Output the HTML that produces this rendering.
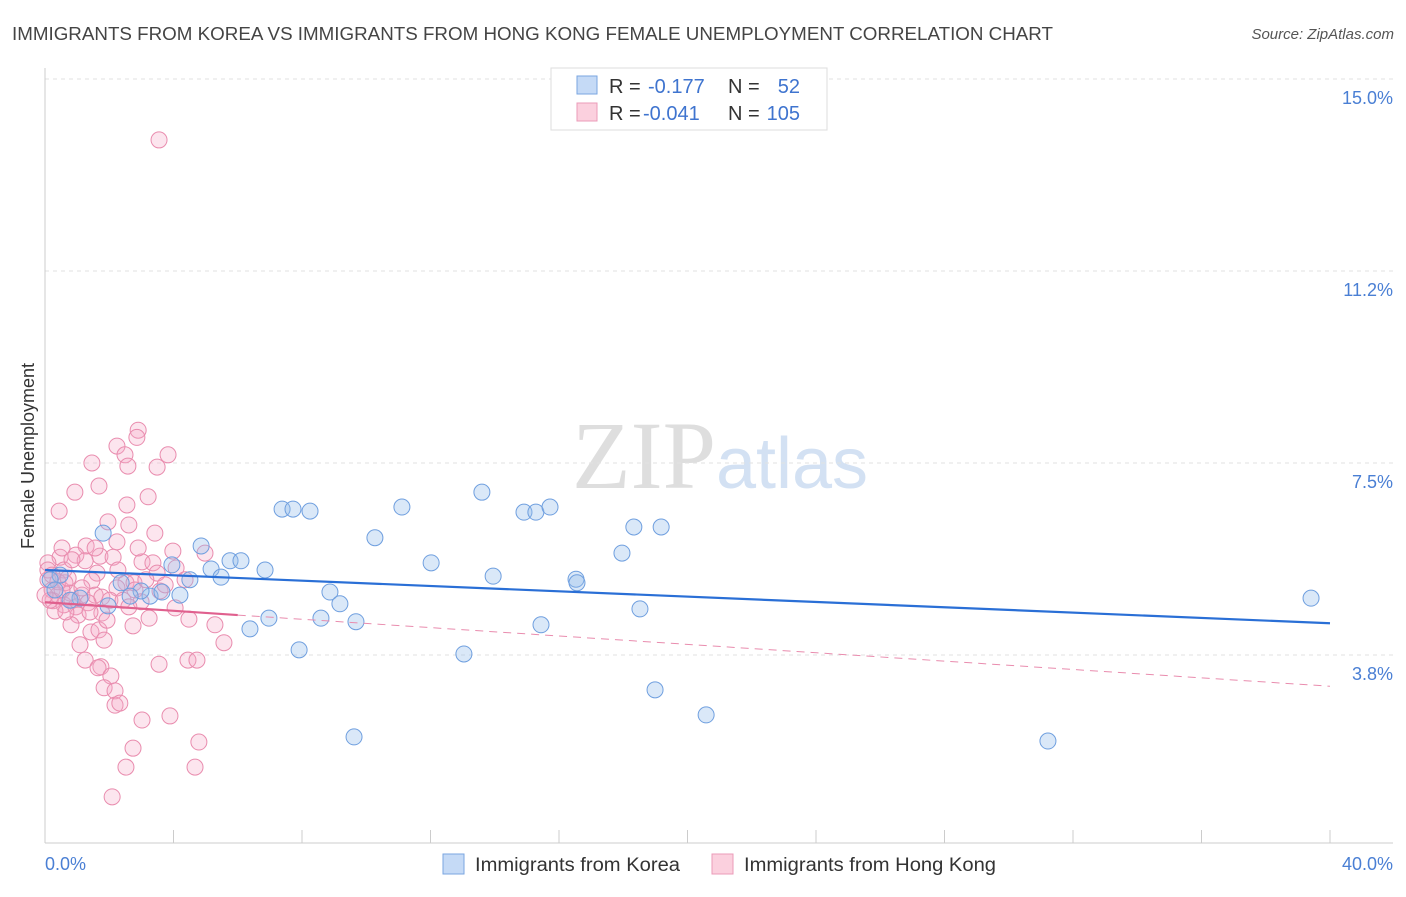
<!DOCTYPE html>
<html><head><meta charset="utf-8"><style>
body{margin:0;background:#fff;font-family:"Liberation Sans",sans-serif;}
</style></head><body>
<svg width="1406" height="892" xmlns="http://www.w3.org/2000/svg" font-family="Liberation Sans, sans-serif">
<text x="12" y="40" font-size="18" fill="#444" textLength="1041" lengthAdjust="spacingAndGlyphs">IMMIGRANTS FROM KOREA VS IMMIGRANTS FROM HONG KONG FEMALE UNEMPLOYMENT CORRELATION CHART</text>
<text x="1394" y="39" font-size="15" fill="#555" text-anchor="end" font-style="italic">Source: ZipAtlas.com</text>
<text x="720" y="488" font-size="96" text-anchor="middle" fill="#dedede" font-family="Liberation Serif, serif">ZIP<tspan fill="#d3e1f3" font-family="Liberation Sans, sans-serif" font-size="72">atlas</tspan></text>
<g id="grid"></g>
<g id="axes"></g>
<g id="marks"></g>
<text transform="translate(34,456) rotate(-90)" font-size="18" fill="#333" text-anchor="middle">Female Unemployment</text>
<text x="45" y="870" font-size="18" fill="#4a7fd4">0.0%</text>
<text x="1393" y="870" font-size="18" fill="#4a7fd4" text-anchor="end">40.0%</text>
<g>
<rect x="551" y="68" width="276" height="62" fill="#fff" stroke="#ddd"/>
<rect x="577" y="76" width="20" height="18" fill="#c5daf6" stroke="#7aa6e0"/>
<rect x="577" y="103" width="20" height="18" fill="#fbd0de" stroke="#eb9bb8"/>
<text x="609" y="93" font-size="20" fill="#333">R =</text>
<text x="648" y="93" font-size="20" fill="#3f74cf">-0.177</text>
<text x="728" y="93" font-size="20" fill="#333">N =</text>
<text x="800" y="93" font-size="20" fill="#3f74cf" text-anchor="end">52</text>
<text x="609" y="120" font-size="20" fill="#333">R =</text>
<text x="643" y="120" font-size="20" fill="#3f74cf">-0.041</text>
<text x="728" y="120" font-size="20" fill="#333">N =</text>
<text x="800" y="120" font-size="20" fill="#3f74cf" text-anchor="end">105</text>
</g>
<g>
<rect x="443" y="854" width="21" height="20" fill="#c5daf6" stroke="#7aa6e0"/>
<text x="475" y="871" font-size="19" fill="#333" textLength="205" lengthAdjust="spacingAndGlyphs">Immigrants from Korea</text>
<rect x="712" y="854" width="21" height="20" fill="#fbd0de" stroke="#eb9bb8"/>
<text x="744" y="871" font-size="19" fill="#333" textLength="252" lengthAdjust="spacingAndGlyphs">Immigrants from Hong Kong</text>
</g>
</svg>
<script>
const yTicks=[15.0,11.25,7.5,3.75];
const yTickLabels=["15.0%","11.2%","7.5%","3.8%"];
const xTicks=[0,4,8,12,16,20,24,28,32,36,40];
const koreaX=[1.81,4.86,5.76,6.10,5.17,5.48,6.85,4.51,3.95,3.27,3.64,4.20,2.99,2.65,2.37,1.96,0.47,0.16,0.31,7.38,7.72,8.25,10.27,11.11,13.60,14.91,15.28,15.72,18.33,19.18,17.96,12.02,13.95,16.53,16.56,8.87,9.18,8.59,9.68,6.97,6.38,7.91,13.04,15.44,18.52,18.99,20.58,9.62,31.22,39.41,1.09,0.78];
const koreaY=[6.13,5.88,5.59,5.59,5.43,5.27,5.41,5.22,5.51,4.90,4.98,4.92,5.00,4.90,5.16,4.71,5.31,5.22,5.02,6.60,6.60,6.56,6.04,6.64,6.93,6.54,6.54,6.64,6.25,6.25,5.74,5.55,5.29,5.23,5.16,4.98,4.75,4.47,4.40,4.47,4.26,3.85,3.77,4.34,4.65,3.07,2.58,2.15,2.07,4.86,4.86,4.82];
const hkX=[3.55,2.90,2.86,2.24,2.49,3.83,1.46,2.58,3.49,1.68,0.93,3.21,0.44,2.55,2.61,3.42,2.24,1.28,3.98,4.98,0.47,0.96,1.71,2.12,3.02,3.36,1.25,0.09,0.59,1.62,3.49,4.08,0.09,0.62,1.46,2.52,2.77,2.24,0.22,0.40,0.78,1.15,1.56,1.77,2.80,3.58,0.25,0.59,0.96,1.34,2.02,2.43,2.99,4.05,0.31,1.03,1.77,2.61,4.48,3.24,0.81,1.43,1.68,2.74,5.29,1.84,1.09,5.57,1.25,1.74,1.65,3.55,4.45,4.73,2.05,1.84,2.18,2.18,2.33,3.02,3.89,2.74,4.79,2.52,4.67,2.09,0.09,0.22,0.40,0.53,0.72,0.84,0.16,0.0,0.65,1.15,1.40,1.93,2.27,3.14,3.74,4.36,0.53,0.84,1.56,2.90,1.96];
const hkY=[13.81,8.14,8.00,7.83,7.66,7.66,7.50,7.44,7.42,7.05,6.93,6.84,6.56,6.68,6.29,6.13,5.96,5.88,5.78,5.74,5.66,5.70,5.68,5.66,5.57,5.55,5.59,5.55,5.41,5.35,5.35,5.45,5.22,5.16,5.20,5.16,5.16,5.06,5.02,4.92,4.96,4.92,4.92,4.88,5.02,5.00,4.81,4.73,4.69,4.77,4.82,4.82,4.79,4.67,4.61,4.53,4.57,4.69,4.45,4.47,4.34,4.20,4.24,4.32,4.34,4.04,3.95,3.99,3.65,3.52,3.50,3.57,3.65,3.65,3.34,3.11,3.05,2.77,2.81,2.48,2.56,1.93,2.05,1.56,1.56,0.98,5.41,5.31,5.18,5.02,5.25,4.82,4.82,4.92,4.59,5.06,4.59,4.43,5.41,5.22,5.12,5.22,5.84,5.61,5.84,5.84,6.35];
const koreaTrend=[[0,5.41],[40,4.37]];
const hkTrendSolid=[[0,4.78],[6,4.53]];
const hkTrendDash=[[6,4.53],[40,3.14]];
const NS="http://www.w3.org/2000/svg";
const X=v=>45+v/40*1285;
const Y=v=>79+(15-v)*51.2;
function mk(tag,attrs,parent){const e=document.createElementNS(NS,tag);for(const k in attrs)e.setAttribute(k,attrs[k]);document.getElementById(parent).appendChild(e);return e;}
yTicks.forEach((t,i)=>{
 const l=mk('line',{x1:45,x2:1393,y1:Y(t),y2:Y(t),stroke:'#e2e2e2','stroke-dasharray':'4,4'},'grid');
 
 
 const tx=mk('text',{x:1393,y:Y(t)+25,'font-size':18,fill:'#4a7fd4','text-anchor':'end'},'grid');
 tx.textContent=yTickLabels[i];
 
 
});
const ax=mk('line',{x1:45,x2:45,y1:68,y2:843,stroke:'#ccc'},'axes');


const bx=mk('line',{x1:45,x2:1393,y1:843,y2:843,stroke:'#ccc'},'axes');


xTicks.forEach(t=>{
 const l=mk('line',{x1:X(t),x2:X(t),y1:830,y2:843,stroke:'#ccc'},'axes');
 
 
});
hkX.forEach((v,i)=>{
 const c=mk('circle',{cx:X(v),cy:Y(hkY[i]),r:8,fill:'rgba(244,170,198,0.3)',stroke:'#e98cae','stroke-width':1},'marks');
 
 
});
koreaX.forEach((v,i)=>{
 const c=mk('circle',{cx:X(v),cy:Y(koreaY[i]),r:8,fill:'rgba(150,188,236,0.35)',stroke:'#6f9fdf','stroke-width':1},'marks');
 
 
});
function line(p,st,w,dash,name){
 const l=mk('line',{x1:X(p[0][0]),y1:Y(p[0][1]),x2:X(p[1][0]),y2:Y(p[1][1]),stroke:st,'stroke-width':w},'marks');
 if(dash)l.setAttribute('stroke-dasharray',dash);
 
 
}
line(koreaTrend,'#2a6fd6',2.2,null,'korea-trend-line');
line(hkTrendDash,'#e98cae',1,'8,6','hongkong-trend-dashed');
line(hkTrendSolid,'#e0608e',2.2,null,'hongkong-trend-line');
</script>
</body></html>
